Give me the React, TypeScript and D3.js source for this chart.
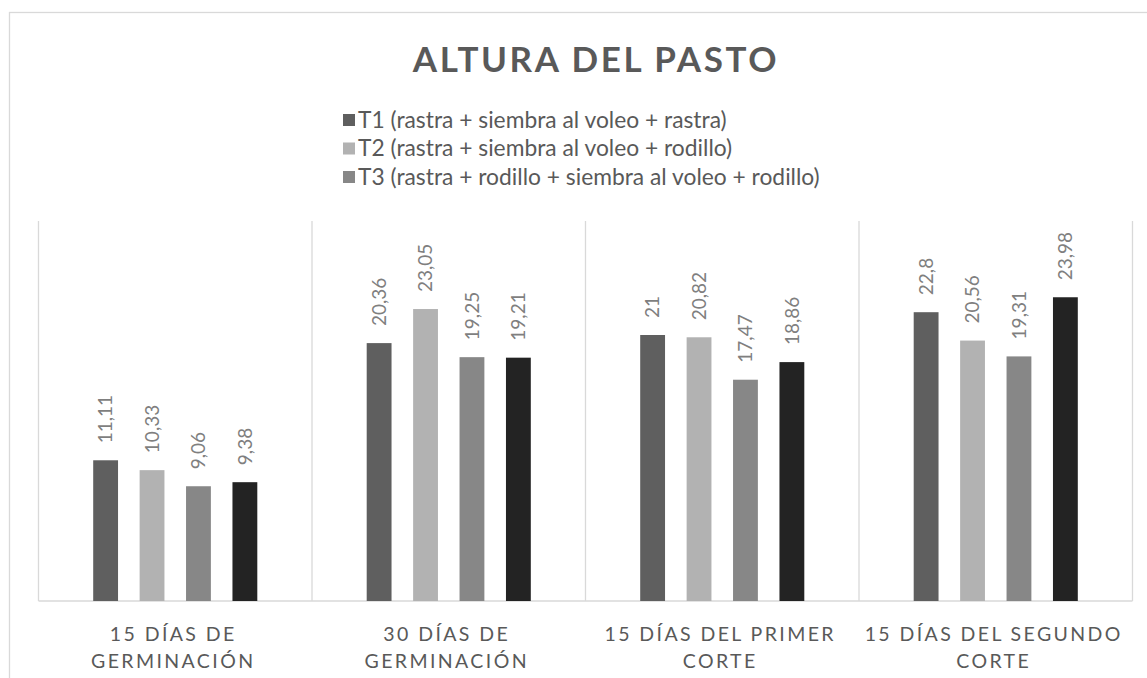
import React from "react";
import * as d3 from "d3";

const categories: string[][] = [
  ["15 DÍAS DE", "GERMINACIÓN"],
  ["30 DÍAS DE", "GERMINACIÓN"],
  ["15 DÍAS DEL PRIMER", "CORTE"],
  ["15 DÍAS DEL SEGUNDO", "CORTE"],
];
const seriesNames = ["T1", "T2", "T3", "T4"];
const legendLabels = [
  "T1 (rastra + siembra al voleo + rastra)",
  "T2 (rastra + siembra al voleo + rodillo)",
  "T3 (rastra + rodillo + siembra al voleo + rodillo)",
];
const T1 = [11.11, 20.36, 21, 22.8];
const T2 = [10.33, 23.05, 20.82, 20.56];
const T3 = [9.06, 19.25, 17.47, 19.31];
const T4 = [9.38, 19.21, 18.86, 23.98];
const seriesValues = [T1, T2, T3, T4];
const colors = ["#5f5f5f", "#b2b2b2", "#878787", "#232323"];
const yMax = 30;

const fmt = (v: number) => String(v).replace(".", ",");

export default function App() {
  const W = 1147;
  const H = 678;
  const left = 38.5;
  const right = 1132.5;
  const bottom = 601;
  const top = 221;
  const x = d3
    .scaleBand<number>()
    .domain(d3.range(categories.length))
    .range([left, right])
    .padding(0);
  const bw = x.bandwidth();
  const xi = d3
    .scaleBand<number>()
    .domain(d3.range(seriesNames.length))
    .range([bw * 0.2, bw * 0.8])
    .paddingInner(0.465)
    .paddingOuter(0);
  const y = d3.scaleLinear().domain([0, yMax]).range([bottom, top]);
  const grid = "#d9d9d9";
  const textColor = "#595959";
  const font = "Lato, 'Open Sans', sans-serif";

  return (
    <svg
      width={W}
      height={H}
      style={{ position: "absolute", left: 0, top: 0, background: "#fff" }}
      fontFamily={font}
    >
      <rect x={9.5} y={12.5} width={1300} height={900} fill="#fff" stroke={grid} strokeWidth={1.3} />
      <text
        x={596}
        y={72}
        textAnchor="middle"
        fontSize={35}
        fontWeight="bold"
        fill={textColor}
        letterSpacing={2.6}
      >
        ALTURA DEL PASTO
      </text>
      {legendLabels.map((l, i) => (
        <g key={i} transform={`translate(343, ${120 + i * 28.5})`}>
          <rect x={0} y={-6} width={12} height={12} fill={colors[i]} />
          <text x={15} y={0} dy="0.35em" fontSize={22.8} fill={textColor}>
            {l}
          </text>
        </g>
      ))}
      {d3.range(categories.length + 1).map((i) => {
        const xx = i < categories.length ? x(i)! : right;
        return (
          <line key={i} x1={xx} x2={xx} y1={top} y2={bottom} stroke={grid} strokeWidth={1.3} />
        );
      })}
      <line x1={left} x2={right} y1={bottom} y2={bottom} stroke={grid} strokeWidth={1.3} />
      {categories.map((c, ci) => (
        <g key={ci}>
          {seriesValues.map((vals, si) => {
            const bx = x(ci)! + xi(si)!;
            const v = vals[ci];
            const cx = bx + xi.bandwidth() / 2;
            return (
              <g key={si}>
                <rect x={bx} y={y(v)} width={xi.bandwidth()} height={bottom - y(v)} fill={colors[si]} />
                <text
                  transform={`translate(${cx}, ${y(v) - 17}) rotate(-90)`}
                  dy="0.35em"
                  fontSize={19}
                  fill="#7f7f7f"
                >
                  {fmt(v)}
                </text>
              </g>
            );
          })}
          {c.map((line, li) => (
            <text
              key={li}
              x={x(ci)! + bw / 2 - 2}
              y={641 + li * 27}
              textAnchor="middle"
              fontSize={19.5}
              fill={textColor}
              letterSpacing={2.4}
            >
              {line}
            </text>
          ))}
        </g>
      ))}
    </svg>
  );
}
